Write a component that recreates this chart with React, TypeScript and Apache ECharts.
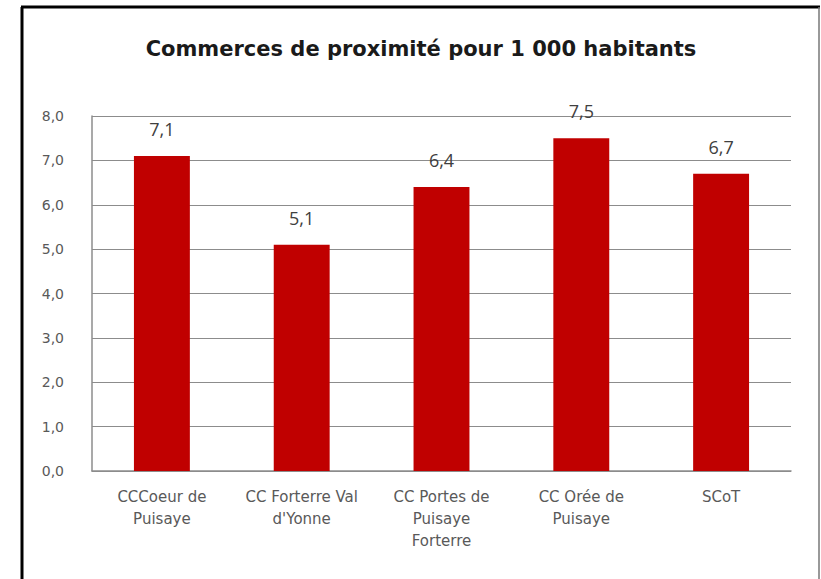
import React, { useEffect, useRef } from "react";
import * as echarts from "echarts";

const categories = [
  "CCCoeur de\nPuisaye",
  "CC Forterre Val\nd'Yonne",
  "CC Portes de\nPuisaye\nForterre",
  "CC Orée de\nPuisaye",
  "SCoT",
];
const values = [7.1, 5.1, 6.4, 7.5, 6.7];
const title = "Commerces de proximité pour 1 000 habitants";

const fmt = (v: number) => v.toFixed(1).replace(".", ",");

export default function App() {
  const ref = useRef<HTMLDivElement>(null);
  useEffect(() => {
    if (!ref.current) return;
    const chart = echarts.init(ref.current, null, { renderer: "svg" });
    chart.setOption({
      animation: false,
      backgroundColor: "#ffffff",
      title: {
        text: title,
        left: 416,
        textAlign: "center",
        top: 33,
        textStyle: {
          fontFamily: "DejaVu Sans",
          fontWeight: "bold",
          fontSize: 21,
          color: "#1a1a1a",
        },
      },
      graphic: [
        { type: "line", shape: { x1: 22, y1: 7, x2: 22, y2: 579 }, style: { stroke: "#000", lineWidth: 3 } },
        { type: "line", shape: { x1: 21, y1: 7, x2: 820, y2: 7 }, style: { stroke: "#000", lineWidth: 3 } },
        { type: "line", shape: { x1: 819, y1: 7, x2: 819, y2: 579 }, style: { stroke: "#777", lineWidth: 1.5 } },
      ],
      grid: { left: 92, right: 30, top: 116, bottom: 108, containLabel: false },
      xAxis: {
        type: "category",
        data: categories,
        axisLine: { show: true, lineStyle: { color: "#8c8c8c", width: 1.5 } },
        axisTick: { show: false },
        axisLabel: {
          interval: 0,
          margin: 15,
          fontFamily: "DejaVu Sans",
          fontSize: 15,
          lineHeight: 22,
          color: "#595959",
        },
      },
      yAxis: {
        type: "value",
        min: 0,
        max: 8,
        interval: 1,
        axisLine: { show: true, lineStyle: { color: "#8c8c8c", width: 1.5 } },
        axisTick: { show: false },
        splitLine: { show: true, lineStyle: { color: "#8c8c8c", width: 1.2 } },
        axisLabel: {
          formatter: (v: number) => fmt(v),
          margin: 28,
          fontFamily: "DejaVu Sans",
          fontSize: 14,
          color: "#595959",
        },
      },
      series: [
        {
          type: "bar",
          data: values,
          barWidth: "40%",
          itemStyle: { color: "#C00000" },
          label: {
            show: true,
            position: "top",
            distance: 18,
            formatter: (p: any) => fmt(p.value),
            fontFamily: "Open Sans",
            fontSize: 18,
            color: "#404040",
          },
        },
      ],
    });
    return () => chart.dispose();
  }, []);
  return (
    <div
      ref={ref}
      style={{ position: "absolute", left: 0, top: 0, width: 821, height: 579 }}
    />
  );
}
